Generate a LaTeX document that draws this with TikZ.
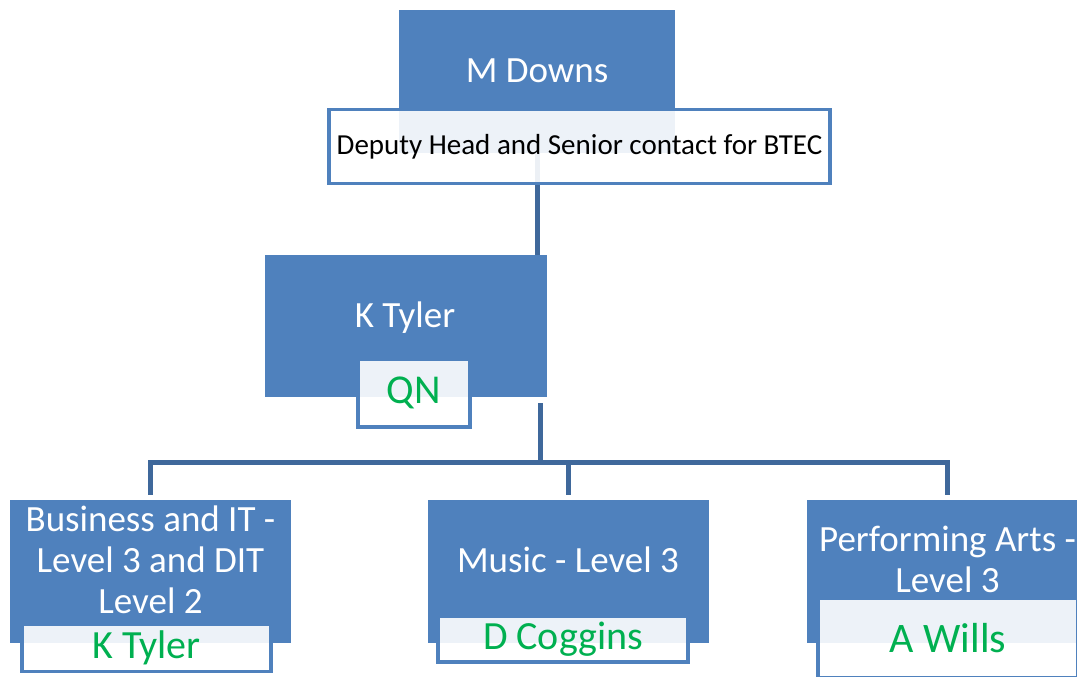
\documentclass[tikz,border=0pt]{standalone}
\usepackage{fontspec}
\setmainfont{Carlito}
\definecolor{boxblue}{HTML}{4F81BD}
\definecolor{lineblue}{HTML}{3F689B}
\definecolor{namegreen}{HTML}{00B050}

\begin{document}
\begin{tikzpicture}[x=1pt, y=-1pt,
    bluebox/.style={fill=boxblue, inner sep=0pt},
    bluetext/.style={text=white, inner sep=0pt, font=\fontsize{37}{41}\selectfont, align=center},
    namebox/.style={draw=boxblue, line width=3.5pt, fill=white, fill opacity=0.9, text opacity=1, text=namegreen, inner sep=0pt},
    conn/.style={draw=lineblue, line width=5pt}]
  \useasboundingbox (0,0) rectangle (1077,677);
  % Boites bleues
  \node[bluebox, minimum width=276pt, minimum height=143pt] (mdowns) at (537,81.5) {};
  \node[bluebox, minimum width=282pt, minimum height=142pt] (ktyler) at (406,326) {};
  \node[bluebox, minimum width=281pt, minimum height=143pt] (business) at (150,571.5) {};
  \node[bluebox, minimum width=281pt, minimum height=143pt] (music) at (568.5,571.5) {};
  \node[bluebox, minimum width=281pt, minimum height=143pt] (perf) at (947.5,571.5) {};
  % Liaisons
  \coordinate (bus) at (540.5,462.5);
  \draw[conn] (mdowns.south) -- (mdowns.south |- ktyler.north);
  \draw[conn, shorten <=6pt] (ktyler.south -| bus) -- (bus);
  \draw[conn, shorten <=5pt, shorten >=5pt] (business.north) |- (bus) -| (perf.north);
  \draw[conn, shorten >=5pt] (music.north |- bus) -- (music.north);
  % Textes des boites bleues
  \node[bluetext, anchor=base] (mdownsT) at (537,83) {M Downs};
  \node[bluetext, anchor=base] (ktylerT) at (405,327) {K Tyler};
  \node[bluetext, anchor=base] (businessT) at (150.5,613) {Business and IT -\\Level 3 and DIT\\Level 2};
  \node[bluetext, anchor=base] (musicT) at (568,572) {Music - Level 3};
  \node[bluetext, anchor=base] (perfT) at (947.5,592) {Performing Arts -\\Level 3};
  % Boites blanches
  \node[namebox, text=black, font=\fontsize{29}{34}\selectfont, minimum width=501pt, minimum height=74pt] (deputy) at (579.5,146.5) {Deputy Head and Senior contact for BTEC};
  \node[namebox, font=\fontsize{41}{46}\selectfont, minimum width=112pt, minimum height=68pt] (qn) at (414,393) {QN};
  \node[namebox, font=\fontsize{40}{44}\selectfont, minimum width=249pt, minimum height=47pt] (businessN) at (146.5,648) {K Tyler};
  \node[namebox, font=\fontsize{40}{45}\selectfont, minimum width=250pt, minimum height=46pt] (musicN) at (563,639) {D Coggins};
  \node[namebox, font=\fontsize{42}{48}\selectfont, minimum width=260pt, minimum height=80pt] (perfN) at (948,638) {A Wills};
\end{tikzpicture}
\end{document}
